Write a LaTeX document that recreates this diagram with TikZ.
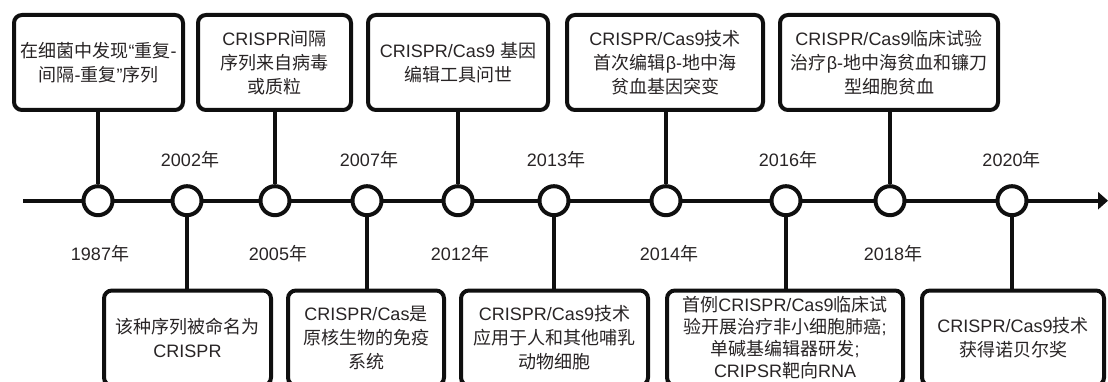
\documentclass[tikz,border=0pt]{standalone}
\usepackage{fontspec}
\setmainfont{Liberation Sans}
\newfontfamily\cjk{Noto Sans CJK SC}
\newcommand\hz[1]{{\cjk #1}}
\usetikzlibrary{arrows.meta}
\definecolor{ink}{RGB}{15,15,15}
\definecolor{txt}{RGB}{40,36,37}
\begin{document}
\begin{tikzpicture}[x=1pt,y=-1pt,
  axis/.style={line width=4pt, draw=ink},
  link/.style={line width=4pt, draw=ink},
  event/.style={draw=ink, line width=4pt, rounded corners=8pt, fill=white, align=center, text=txt,
    font=\fontsize{18}{24}\selectfont, minimum height=95pt, inner sep=2pt},
  dot/.style={circle, draw=ink, line width=4pt, fill=white, minimum size=29pt, inner sep=0pt},
  year/.style={text=txt, font=\fontsize{18}{22}\selectfont, inner sep=0pt}]
\useasboundingbox (0,0) rectangle (1108,382);
\clip (0,0) rectangle (1108,382);

% axis
\coordinate (start) at (23,200.7);
\coordinate (end) at (1108,200.7);
\draw[axis, -{Triangle[length=10pt,width=17pt]}] (start) -- (end);

% circles
\node[dot] (c1)  at (98,200.7) {};
\node[dot] (c2)  at (187,200.7) {};
\node[dot] (c3)  at (275,200.7) {};
\node[dot] (c4)  at (367,200.7) {};
\node[dot] (c5)  at (458,200.7) {};
\node[dot] (c6)  at (554,200.7) {};
\node[dot] (c7)  at (666,200.7) {};
\node[dot] (c8)  at (786,200.7) {};
\node[dot] (c9)  at (890,200.7) {};
\node[dot] (c10) at (1012,200.7) {};

% event boxes
\node[event, minimum width=169pt] (b1) at (98.5,62.5) {\hz{在细菌中发现}“\hz{重复}-\\\hz{间隔}-\hz{重复}”\hz{序列}};
\node[event, minimum width=153pt] (b3) at (274.5,62.5) {CRISPR\hz{间隔}\\\hz{序列来自病毒}\\\hz{或质粒}};
\node[event, minimum width=180pt] (b5) at (458,62.5) {CRISPR/Cas9 \hz{基因}\\\hz{编辑工具问世}};
\node[event, minimum width=196pt] (b7) at (665,62.5) {CRISPR/Cas9\hz{技术}\\\hz{首次编辑}β-\hz{地中海}\\\hz{贫血基因突变}};
\node[event, minimum width=218pt] (b9) at (889,62.5) {CRISPR/Cas9\hz{临床试验}\\\hz{治疗}β-\hz{地中海贫血和镰刀}\\\hz{型细胞贫血}};

\node[event, minimum width=167pt] (b2) at (187.5,338) {\hz{该种序列被命名为}\\CRISPR};
\node[event, minimum width=156pt] (b4) at (366,338) {CRISPR/Cas\hz{是}\\\hz{原核生物的免疫}\\\hz{系统}};
\node[event, minimum width=187pt] (b6) at (554.5,338) {CRISPR/Cas9\hz{技术}\\\hz{应用于人和其他哺乳}\\\hz{动物细胞}};
\node[event, minimum width=236pt, font=\fontsize{18}{22}\selectfont] (b8) at (785,338) {\hz{首例}CRISPR/Cas9\hz{临床试}\\\hz{验开展治疗非小细胞肺癌};\\\hz{单碱基编辑器研发};\\CRIPSR\hz{靶向}RNA};
\node[event, minimum width=182pt] (b10) at (1013,338) {CRISPR/Cas9\hz{技术}\\\hz{获得诺贝尔奖}};

% connectors
\draw[link] (c1.north) -- (c1.north |- b1.south);
\draw[link] (c3.north) -- (c3.north |- b3.south);
\draw[link] (c5.north) -- (c5.north |- b5.south);
\draw[link] (c7.north) -- (c7.north |- b7.south);
\draw[link] (c9.north) -- (c9.north |- b9.south);
\draw[link] (c2.south) -- (c2.south |- b2.north);
\draw[link] (c4.south) -- (c4.south |- b4.north);
\draw[link] (c6.south) -- (c6.south |- b6.north);
\draw[link] (c8.south) -- (c8.south |- b8.north);
\draw[link] (c10.south) -- (c10.south |- b10.north);

% years
\node[year] (y1)  at (100,254) {1987\hz{年}};
\node[year] (y2)  at (190,159.7) {2002\hz{年}};
\node[year] (y3)  at (278,254) {2005\hz{年}};
\node[year] (y4)  at (369,159.7) {2007\hz{年}};
\node[year] (y5)  at (460,254) {2012\hz{年}};
\node[year] (y6)  at (556,159.7) {2013\hz{年}};
\node[year] (y7)  at (669,254) {2014\hz{年}};
\node[year] (y8)  at (788,159.7) {2016\hz{年}};
\node[year] (y9)  at (893,254) {2018\hz{年}};
\node[year] (y10) at (1011.5,159.7) {2020\hz{年}};
\end{tikzpicture}
\end{document}
